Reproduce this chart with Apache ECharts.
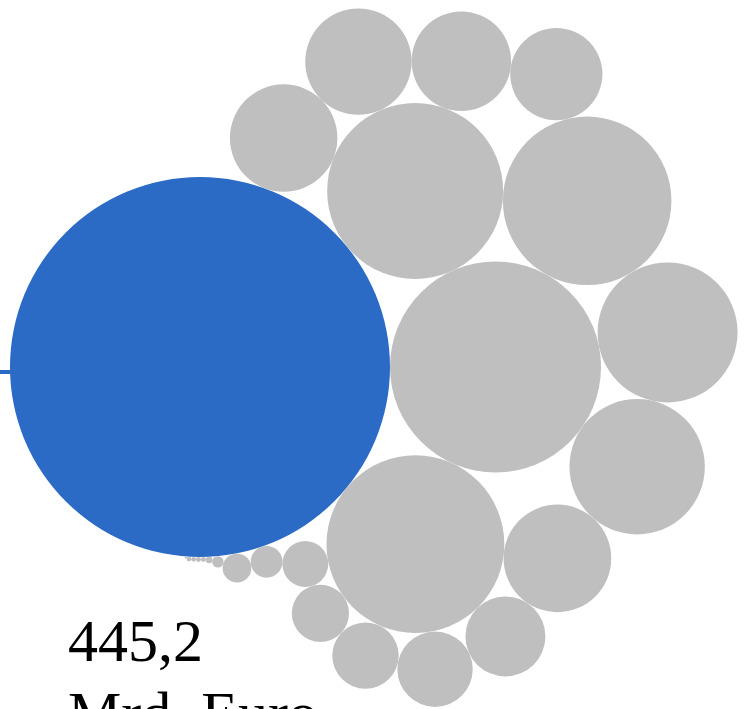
<!DOCTYPE html>
<html><head><meta charset="utf-8">
<script src="https://cdn.jsdelivr.net/npm/echarts@6/dist/echarts.min.js"></script>
<style>html,body{margin:0;padding:0;background:#fff}#chart{width:751px;height:709px}</style>
</head><body><div id="chart"></div>
<script>
// Values (Mrd. Euro); first one is the highlighted item
const values = [445.2, 137.3, 97.5, 95.5, 87.6, 60.4, 56.5, 35.7, 35.6, 34.9, 30.5, 26.2,
  19.7, 17.5, 13.6, 10.1, 6.5, 3.1, 2.55, 0.4, 0.13, 0.075, 0.075, 0.07, 0.07, 0.015];
// packing order: each bubble is laid against two bubbles placed before it
const touches = [null, [0], [0, 1], [0, 1], [3, 1], [4, 1], [5, 1], [6, 2], [0, 3], [8, 3],
  [9, 3], [10, 4], [7, 2], [12, 2], [13, 2], [14, 2], [15, 2], [16, 0], [17, 0], [18, 0],
  [19, 0], [20, 0], [21, 0], [22, 0], [23, 0], [24, 0]];
const highlightIndex = 0;
const labelLines = ['445,2', 'Mrd. Euro'];

const BLUE = '#2B6BC6';
const GRAY = '#BFBFBF';

// view anchor for the highlighted bubble
const W = 751, H = 709;
const anchorX = 200, anchorY = 367, anchorR = 190;
const s = anchorR / Math.sqrt(values[highlightIndex]); // px per unit

// --- tangent packing (radius = sqrt(value)) ---
const circles = values.map(v => ({ r: Math.sqrt(v), x: 0, y: 0 }));
function overlap(c, placed) {
  let o = 0;
  for (const p of placed) {
    const d = Math.hypot(c.x - p.x, c.y - p.y);
    const ov = p.r + c.r - d;
    if (ov > 1e-6 * (p.r + c.r)) o += ov;
  }
  return o;
}
const placed = [];
circles.forEach((c, i) => {
  const t = touches[i];
  if (!t) { c.x = 0; c.y = 0; }
  else if (t.length === 1) { const p = circles[t[0]]; c.x = p.x + p.r + c.r; c.y = p.y; }
  else {
    const P = circles[t[0]], Q = circles[t[1]];
    const dx = Q.x - P.x, dy = Q.y - P.y, d = Math.hypot(dx, dy);
    const a = P.r + c.r, b = Q.r + c.r;
    const along = (a * a - b * b + d * d) / (2 * d);
    const h = Math.sqrt(Math.max(0, a * a - along * along));
    const ux = dx / d, uy = dy / d;
    const cand = [1, -1].map(sg => ({ x: P.x + along * ux - sg * h * uy, y: P.y + along * uy + sg * h * ux, r: c.r }));
    const others = placed.filter(p => p !== P && p !== Q);
    cand.forEach(k => k.o = overlap(k, others));
    cand.sort((m, n) => (m.o - n.o) || (n.y - m.y));
    c.x = cand[0].x; c.y = cand[0].y;
  }
  placed.push(c);
});

const h0 = circles[highlightIndex];
const data = circles.map((c, i) => [c.x, c.y, c.r, i === highlightIndex ? 1 : 0]);

const chart = echarts.init(document.getElementById('chart'), null, { renderer: 'canvas' });
chart.setOption({
  animation: false,
  grid: { left: 0, right: 0, top: 0, bottom: 0, containLabel: false },
  xAxis: { type: 'value', show: false, scale: true,
    min: h0.x - anchorX / s, max: h0.x + (W - anchorX) / s },
  yAxis: { type: 'value', show: false, inverse: true, scale: true,
    min: h0.y - anchorY / s, max: h0.y + (H - anchorY) / s },
  graphic: [
    { type: 'line', z: 0, shape: { x1: 0, y1: 372, x2: 30, y2: 372 },
      style: { stroke: BLUE, lineWidth: 4 } },
    { type: 'text', z: 10, left: 68, top: 609,
      style: { text: labelLines.join('\n'), fontFamily: '"Liberation Serif", serif',
        fontSize: 60, lineHeight: 72, fill: '#000' } }
  ],
  series: [{
    type: 'custom',
    z: 2,
    clip: false,
    encode: { x: 0, y: 1 },
    data: data,
    renderItem: function (params, api) {
      const p = api.coord([api.value(0), api.value(1)]);
      const r = api.size([api.value(2), 0])[0];
      return { type: 'circle', shape: { cx: p[0], cy: p[1], r: r },
        style: { fill: api.value(3) ? BLUE : GRAY } };
    }
  }]
});
</script></body></html>
